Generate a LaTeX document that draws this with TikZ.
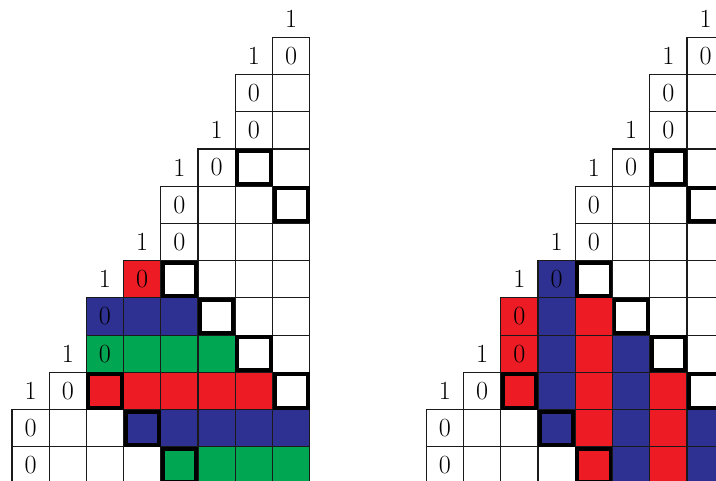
\documentclass[tikz,border=0pt]{standalone}
\usepackage{xcolor}
\usepackage{tikz}
\definecolor{redc}{HTML}{ED1C24}
\definecolor{bluec}{HTML}{2E3192}
\definecolor{greenc}{HTML}{00A651}
\definecolor{linec}{HTML}{1A1A1A}
\tikzset{
  cellc/.style={draw=linec,line width=0.9pt},
  hook/.style={draw=black,line width=3pt},
  lbl/.style={font=\fontsize{20}{23}\selectfont,inner sep=0pt}
}
% staircase of cells, labels and thick diagonal boxes; #1 = name prefix
\newcommand{\stairgrid}[1]{%
 \foreach \r/\s in {1/7,2/6,3/6,4/5,5/4,6/4,7/3,8/2,9/2,10/1,11/0,12/0}{
  \foreach \c in {\s,...,7}{\draw[cellc] (\c,{12-\r}) rectangle ++(1,1);}
  \node[lbl] (#1z\r) at ({\s+0.5},{12.5-\r}) {0};}
 \foreach \r/\c in {0/7,1/6,3/5,4/4,6/3,7/2,9/1,10/0}{
  \node[lbl] (#1o\r) at ({\c+0.5},{12.5-\r}) {1};}
 \foreach \r/\c in {4/6,5/7,7/4,8/5,9/6,10/7,10/2,11/3,12/4}{
  \draw[hook] ({\c+0.054},{12-\r+0.054}) rectangle ({\c+0.946},{13-\r-0.054});}
}

\begin{document}
\begin{tikzpicture}
\useasboundingbox (-0.32,0.086) rectangle (18.91,13.0);
% left: colours by row
\begin{scope}
\foreach \r/\a/\b/\col in {7/3/3/redc,8/2/4/bluec,9/2/5/greenc,10/2/6/redc,11/3/7/bluec,12/4/7/greenc}{
 \fill[\col] (\a,{12-\r}) rectangle ({\b+1},{13-\r});}
\stairgrid{l}
\end{scope}
% right: colours by column
\begin{scope}[xshift=11.13cm]
\foreach \c/\a/\b/\col in {2/8/10/redc,3/7/11/bluec,4/8/12/redc,5/9/12/bluec,6/10/12/redc,7/11/12/bluec}{
 \fill[\col] (\c,{12-\b}) rectangle ({\c+1},{13-\a});}
\stairgrid{r}
\end{scope}
\end{tikzpicture}
\end{document}
